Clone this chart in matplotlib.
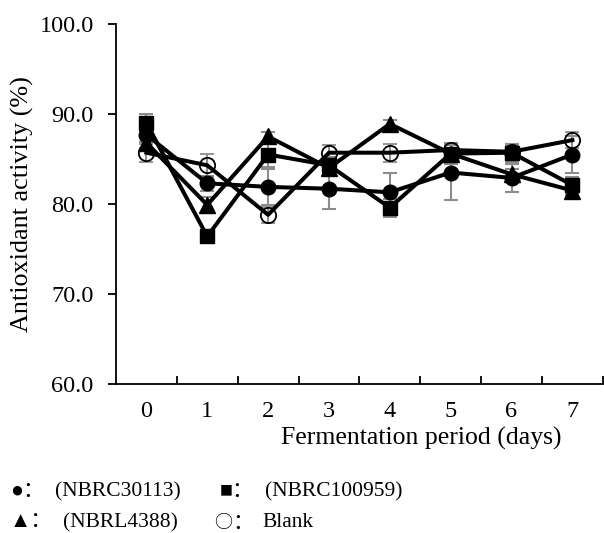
import matplotlib
matplotlib.use("Agg")
import matplotlib.pyplot as plt
from matplotlib.ticker import FixedLocator

plt.rcParams['font.family'] = ['Liberation Serif', 'Noto Sans CJK SC', 'DejaVu Sans']

# data
days = [0, 1, 2, 3, 4, 5, 6, 7]

nbrc30113 = [87.7, 82.3, 81.9, 81.7, 81.3, 83.5, 82.9, 85.5]
nbrc30113_err = [0.8, 0.8, 2.0, 2.2, 2.1, 3.1, 1.6, 2.1]

nbrc100959 = [89.0, 76.4, 85.5, 84.3, 79.6, 85.6, 85.7, 82.1]
nbrc100959_err = [1.0, 0.7, 1.4, 0.9, 1.0, 1.2, 1.0, 0.9]

nbrl4388 = [86.8, 79.9, 87.5, 84.0, 88.9, 85.6, 83.3, 81.5]
nbrl4388_err = [0.6, 0.9, 0.5, 0.6, 0.4, 0.6, 0.6, 0.5]

blank = [85.7, 84.3, 78.8, 85.7, 85.7, 86.0, 85.8, 87.1]
blank_err = [1.0, 1.3, 0.9, 0.9, 1.0, 0.8, 0.7, 0.9]

yticks = [60, 70, 80, 90, 100]

fig = plt.figure(figsize=(6.04, 5.33), dpi=100)
ax = fig.add_axes([0.192, 0.2795, 0.806, 0.6755])

err_kw = dict(ecolor='#8c8c8c', elinewidth=1.5, capsize=5, capthick=1.5)
line_kw = dict(color='black', linewidth=2.9)

ax.errorbar(days, nbrc30113, yerr=nbrc30113_err, marker='o', ms=10.5,
            mfc='black', mec='black', zorder=3, **line_kw, **err_kw)
ax.errorbar(days, nbrc100959, yerr=nbrc100959_err, marker='s', ms=10,
            mfc='black', mec='black', zorder=3, **line_kw, **err_kw)
ax.errorbar(days, nbrl4388, yerr=nbrl4388_err, marker='^', ms=11,
            mfc='black', mec='black', zorder=3, **line_kw, **err_kw)
ax.errorbar(days, blank, yerr=blank_err, marker='o', ms=11,
            mfc='none', mec='black', mew=1.3, zorder=3, **line_kw, **err_kw)

ax.set_xlim(-0.5, 7.5)
ax.set_ylim(60, 100)
ax.set_yticks(yticks)
ax.set_yticklabels(['%.1f' % v for v in yticks], fontsize=17.5)
ax.set_xticks(days)
ax.set_xticklabels([str(d) for d in days], fontsize=17.5)
ax.xaxis.set_minor_locator(FixedLocator([d + 0.5 for d in days]))
ax.tick_params(axis='x', which='major', length=0, pad=12)
ax.tick_params(axis='x', which='minor', direction='in', length=6, width=1.3)
ax.tick_params(axis='y', direction='out', length=6, width=1.3, pad=10)

for s in ['top', 'right']:
    ax.spines[s].set_visible(False)
for s in ['left', 'bottom']:
    ax.spines[s].set_linewidth(1.3)

ax.set_ylabel('Antioxidant activity (%)', fontsize=18.8, labelpad=4)
fig.text(0.697, 0.178, 'Fermentation period (days)', fontsize=18.5,
         ha='center', va='center')

# legend written as text under the plot
fs = 15.5
fig.text(0.016, 0.077, '●：', fontsize=fs, va='center')
fig.text(0.091, 0.077, '(NBRC30113)', fontsize=fs, va='center')
fig.text(0.364, 0.077, '■：', fontsize=fs, va='center')
fig.text(0.439, 0.077, '(NBRC100959)', fontsize=fs, va='center')
fig.text(0.016, 0.019, '▲：', fontsize=fs, va='center')
fig.text(0.104, 0.019, '(NBRL4388)', fontsize=fs, va='center')
fig.text(0.355, 0.019, '○', fontsize=13, va='center',
         family=['Noto Sans CJK SC'])
fig.text(0.385, 0.019, '：', fontsize=fs, va='center',
         family=['Noto Sans CJK SC'])
fig.text(0.434, 0.019, 'Blank', fontsize=fs, va='center')

fig.savefig('out.png', dpi=100)
